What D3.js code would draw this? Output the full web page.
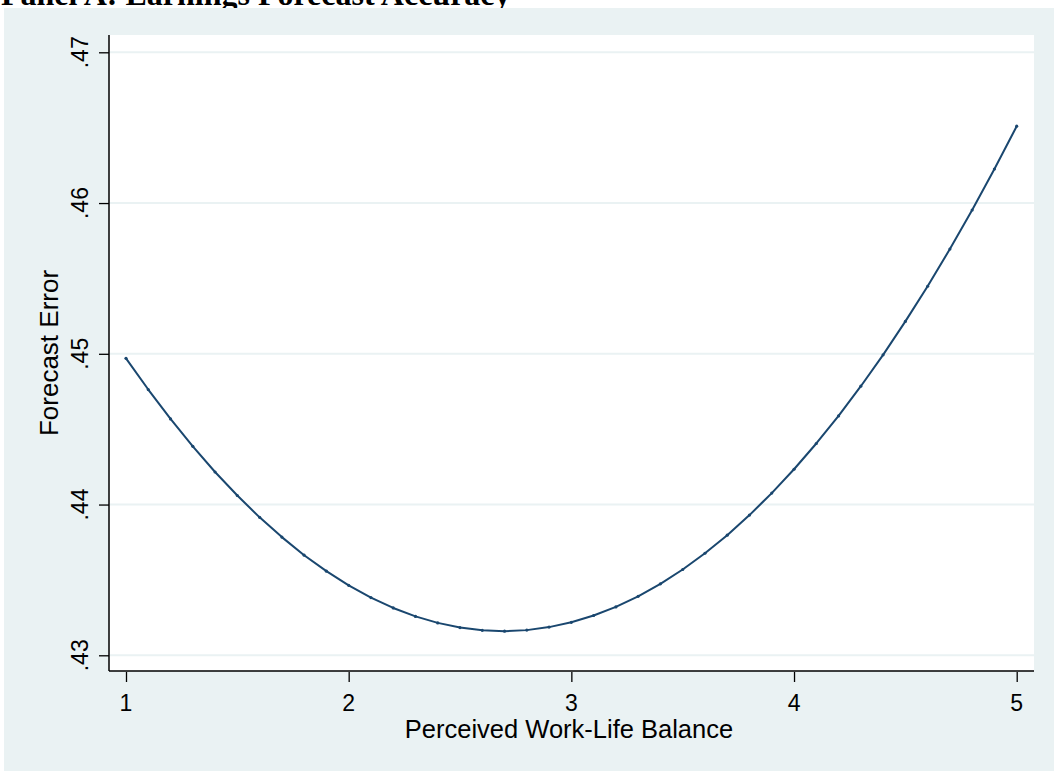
<!DOCTYPE html>
<html>
<head>
<meta charset="utf-8">
<script src="https://cdn.jsdelivr.net/npm/d3@7"></script>
<style>
  html, body { margin: 0; padding: 0; background: #ffffff; }
  svg { display: block; }
</style>
</head>
<body>
<svg id="chart" width="1054" height="771"></svg>
<script>
// ---- Data ----
const balance = [1.0, 1.1, 1.2, 1.3, 1.4, 1.5, 1.6, 1.7, 1.8, 1.9,
                 2.0, 2.1, 2.2, 2.3, 2.4, 2.5, 2.6, 2.7, 2.8, 2.9,
                 3.0, 3.1, 3.2, 3.3, 3.4, 3.5, 3.6, 3.7, 3.8, 3.9,
                 4.0, 4.1, 4.2, 4.3, 4.4, 4.5, 4.6, 4.7, 4.8, 4.9, 5.0];
const forecastError = [0.4497, 0.44763, 0.44568, 0.44386, 0.44216, 0.44060, 0.43915, 0.43784, 0.43664, 0.43558,
                       0.43464, 0.43383, 0.43314, 0.43258, 0.43215, 0.43184, 0.43166, 0.43160, 0.43167, 0.43187,
                       0.43219, 0.43264, 0.43321, 0.43391, 0.43474, 0.43569, 0.43677, 0.43797, 0.43930, 0.44076,
                       0.44234, 0.44405, 0.44588, 0.44785, 0.44993, 0.45215, 0.45448, 0.45695, 0.45954, 0.46226,
                       0.46510];
const xTicks = [1, 2, 3, 4, 5];
const yTicks = [0.43, 0.44, 0.45, 0.46, 0.47];
const yTickLabels = [".43", ".44", ".45", ".46", ".47"];
const titleText = "Panel A: Earnings Forecast Accuracy";
const xTitle = "Perceived Work-Life Balance";
const yTitle = "Forecast Error";

// ---- Layout ----
const svg = d3.select("#chart");
const W = 1054, H = 771;
const plot = { left: 109, top: 35, right: 1034, bottom: 671 };
const bg = "#eaf2f3";
const lineColor = "#1a476f";
const sans = "'Liberation Sans', Arial, Helvetica, sans-serif";

// title (partially hidden by the graph region, as in the reference)
svg.append("text")
  .attr("x", 1).attr("y", 5)
  .attr("font-family", "'Liberation Serif', 'Times New Roman', serif")
  .attr("font-weight", "bold")
  .attr("font-size", 32)
  .attr("fill", "#000")
  .text(titleText);

// outer graph region
svg.append("rect").attr("x", 4).attr("y", 8).attr("width", W - 4).attr("height", H - 8).attr("fill", bg);

// plot region
svg.append("rect")
  .attr("x", plot.left).attr("y", plot.top)
  .attr("width", plot.right - plot.left).attr("height", plot.bottom - plot.top)
  .attr("fill", "#ffffff");

const x = d3.scaleLinear().domain([1, 5]).range([126, 1016.7]);
const y = d3.scaleLinear().domain([0.43, 0.47]).range([655.3, 52.3]);

// gridlines
svg.append("g").selectAll("line").data(yTicks).join("line")
  .attr("x1", plot.left + 1).attr("x2", plot.right)
  .attr("y1", d => y(d)).attr("y2", d => y(d))
  .attr("stroke", bg).attr("stroke-width", 2);

// y axis
const yAxis = d3.axisLeft(y).tickValues(yTicks).tickSize(10).tickSizeOuter(0)
  .tickFormat((d, i) => yTickLabels[i]);
const gy = svg.append("g").attr("transform", `translate(${plot.left},0)`).call(yAxis);
gy.select(".domain").remove();
gy.selectAll(".tick line").attr("stroke", "#000").attr("stroke-width", 1.3);
gy.selectAll(".tick text").remove();
svg.append("line").attr("x1", plot.left).attr("x2", plot.left)
  .attr("y1", plot.top).attr("y2", plot.bottom).attr("stroke", "#000").attr("stroke-width", 1.5);
svg.append("g").selectAll("text").data(yTicks).join("text")
  .attr("transform", d => `translate(88,${y(d)}) rotate(-90)`)
  .attr("text-anchor", "middle")
  .attr("font-family", sans).attr("font-size", 23).attr("fill", "#000")
  .text((d, i) => yTickLabels[i]);

// x axis
const xAxis = d3.axisBottom(x).tickValues(xTicks).tickSize(10).tickSizeOuter(0).tickFormat(d3.format("d"));
const gx = svg.append("g").attr("transform", `translate(0,${plot.bottom + 1})`).call(xAxis);
gx.select(".domain").remove();
gx.selectAll(".tick line").attr("stroke", "#000").attr("stroke-width", 1.3);
gx.selectAll(".tick text").remove();
svg.append("line").attr("x1", plot.left).attr("x2", plot.right)
  .attr("y1", plot.bottom).attr("y2", plot.bottom).attr("stroke", "#000").attr("stroke-width", 1.5);
svg.append("g").selectAll("text").data(xTicks).join("text")
  .attr("x", d => x(d)).attr("y", 711)
  .attr("text-anchor", "middle")
  .attr("font-family", sans).attr("font-size", 23).attr("fill", "#000")
  .text(d => d);

// axis titles
svg.append("text")
  .attr("x", 569).attr("y", 738)
  .attr("text-anchor", "middle")
  .attr("font-family", sans).attr("font-size", 25.5).attr("fill", "#000")
  .text(xTitle);
svg.append("text")
  .attr("transform", `translate(58,${(plot.top + plot.bottom) / 2}) rotate(-90)`)
  .attr("text-anchor", "middle")
  .attr("font-family", sans).attr("font-size", 26).attr("fill", "#000")
  .text(yTitle);

// line
const pts = balance.map((b, i) => [b, forecastError[i]]);
svg.append("path")
  .datum(pts)
  .attr("fill", "none").attr("stroke", lineColor).attr("stroke-width", 2)
  .attr("stroke-linejoin", "round")
  .attr("d", d3.line().x(d => x(d[0])).y(d => y(d[1])));
svg.append("g").selectAll("circle").data(pts).join("circle")
  .attr("cx", d => x(d[0])).attr("cy", d => y(d[1])).attr("r", 1.6)
  .attr("fill", lineColor);
</script>
</body>
</html>
